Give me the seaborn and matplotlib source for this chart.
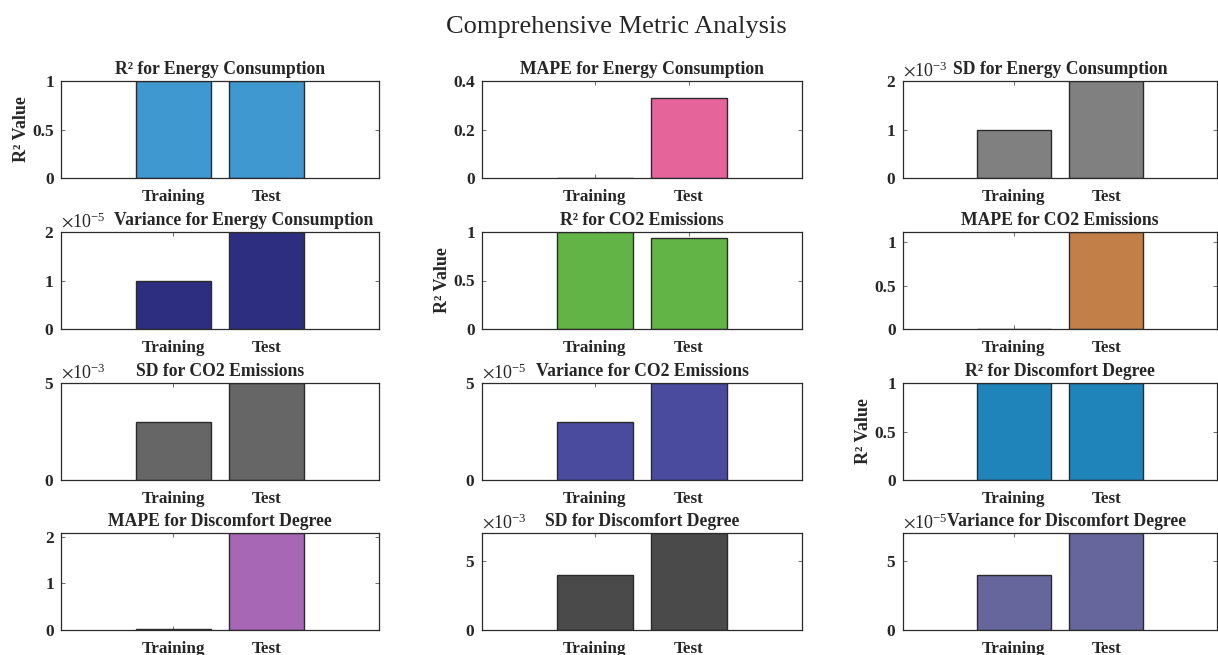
import matplotlib
matplotlib.use("Agg")
import matplotlib.pyplot as plt
from matplotlib.ticker import ScalarFormatter, FuncFormatter, FixedLocator
import pandas as pd
import seaborn as sns

# ---- data -------------------------------------------------------------
splits = ["Training", "Test"]

r2_energy = [1.0, 1.0]
mape_energy = [0.0, 0.33]
sd_energy = [1e-3, 2e-3]
var_energy = [1e-5, 2e-5]

r2_co2 = [1.0, 0.94]
mape_co2 = [0.0, 1.12]
sd_co2 = [3e-3, 5e-3]
var_co2 = [3e-5, 5e-5]

r2_disc = [1.0, 1.0]
mape_disc = [0.03, 2.08]
sd_disc = [4e-3, 7e-3]
var_disc = [4e-5, 7e-5]

titles = [
    "R\u00b2 for Energy Consumption", "MAPE for Energy Consumption", "SD for Energy Consumption",
    "Variance for Energy Consumption", "R\u00b2 for CO2 Emissions", "MAPE for CO2 Emissions",
    "SD for CO2 Emissions", "Variance for CO2 Emissions", "R\u00b2 for Discomfort Degree",
    "MAPE for Discomfort Degree", "SD for Discomfort Degree", "Variance for Discomfort Degree",
]
series = [
    r2_energy, mape_energy, sd_energy,
    var_energy, r2_co2, mape_co2,
    sd_co2, var_co2, r2_disc,
    mape_disc, sd_disc, var_disc,
]

# ---- styling ----------------------------------------------------------
colors = [
    "#3F98CF", "#E5659B", "#808080",
    "#2E2E80", "#63B446", "#C27F47",
    "#666666", "#4A4A9E", "#1F84BA",
    "#A867B5", "#4A4A4A", "#66669C",
]
ytick_sets = [
    [0, 0.5, 1], [0, 0.2, 0.4], [0, 1e-3, 2e-3],
    [0, 1e-5, 2e-5], [0, 0.5, 1], [0, 0.5, 1],
    [0, 5e-3], [0, 5e-5], [0, 0.5, 1],
    [0, 1, 2], [0, 5e-3], [0, 5e-5],
]
ytops = [1.0, 0.4, 2e-3, 2e-5, 1.0, 1.12, 5e-3, 5e-5, 1.0, 2.08, 7e-3, 7e-5]
scaled = [False, False, True, True, False, False, True, True, False, False, True, True]
# horizontal title anchor (axes fraction); long variance titles are nudged
# right so they clear the exponent label
title_x = [0.5, 0.5, 0.5, 0.575, 0.5, 0.5, 0.5, 0.5, 0.5, 0.5, 0.5, 0.522]
is_r2 = [t.startswith("R\u00b2") for t in titles]

sns.set_theme(style="white")
plt.rcParams["font.family"] = ["Liberation Serif", "DejaVu Serif"]
plt.rcParams["mathtext.fontset"] = "stix"

W, H = 1218, 655
fig = plt.figure(figsize=(W / 100, H / 100), dpi=100)
fig.patch.set_facecolor("white")

lefts = [61, 482, 903]
widths = [318, 320, 314]
tops = [81, 232, 383, 533]
height = 97

for i, (title, vals) in enumerate(zip(titles, series)):
    r, c = divmod(i, 3)
    ax = fig.add_axes([lefts[c] / W, 1 - (tops[r] + height) / H, widths[c] / W, height / H])
    df = pd.DataFrame({"split": splits, "value": vals})
    sns.barplot(data=df, x="split", y="value", color=colors[i], saturation=1,
                width=0.8, edgecolor="#2b2b2b", linewidth=1.0, ax=ax)
    ax.set_xlim(-1.2, 2.2)
    ax.set_ylim(0, ytops[i])
    ax.yaxis.set_major_locator(FixedLocator(ytick_sets[i]))
    if scaled[i]:
        fmt = ScalarFormatter(useMathText=True)
        fmt.set_powerlimits((0, 0))
        ax.yaxis.set_major_formatter(fmt)
        off = ax.yaxis.get_offset_text()
        off.set_fontsize(13)
        off.set_fontweight("normal")
    else:
        ax.yaxis.set_major_formatter(FuncFormatter(lambda v, p: f"{v:g}"))
    ax.set_xlabel("")
    ax.set_ylabel("R\u00b2 Value" if is_r2[i] else "", fontsize=13, fontweight="bold", labelpad=2)
    # explicit y keeps the title at a fixed gap above the frame
    ax.set_title(title, fontsize=12.7, fontweight="bold", pad=5, x=title_x[i], y=1.0)
    ax.tick_params(axis="both", which="major", direction="in", length=3, width=0.6,
                   color="#555555", top=True, right=True, bottom=True, left=True,
                   labelsize=12.5)
    ax.tick_params(axis="x", pad=8, labelsize=12.3)
    ax.tick_params(axis="y", pad=5)
    for lab in ax.get_xticklabels() + ax.get_yticklabels():
        lab.set_fontweight("bold")
    for sp in ax.spines.values():
        sp.set_visible(True)
        sp.set_color("#2b2b2b")
        sp.set_linewidth(0.9)
    ax.grid(False)

fig.text(616 / W, 1 - 27 / H, "Comprehensive Metric Analysis", ha="center", va="center",
         fontsize=19)

fig.savefig("out.png", dpi=100, facecolor="white")
